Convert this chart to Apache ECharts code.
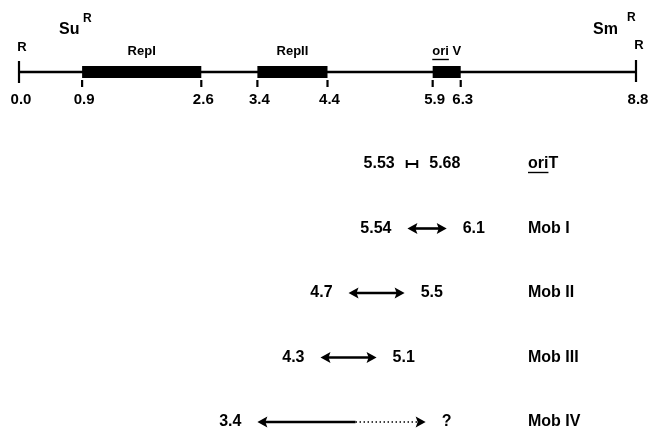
<!DOCTYPE html>
<html><head><meta charset="utf-8">
<script src="https://cdn.jsdelivr.net/npm/echarts@6/dist/echarts.min.js"></script>
<style>html,body{margin:0;padding:0;background:#fff}#c{width:650px;height:433px}</style>
</head><body><div id="c"></div>
<script>
// ---- data ----
const mapStart = 0.0;
const mapEnd = 8.8;
const mapTicks = [0.0, 0.9, 2.6, 3.4, 4.4, 5.9, 6.3, 8.8];
const blockNames = ['RepI', 'RepII', 'ori V'];
const blockStarts = [0.9, 3.4, 5.9];
const blockEnds = [2.6, 4.4, 6.3];
const blockUnderline = [0, 0, 3];          // underlined leading characters
const endSiteLabel = 'R';
const markerNames = ['Su', 'Sm'];          // resistance markers near left / right end
const markerSup = 'R';
const rowNames = ['oriT', 'Mob I', 'Mob II', 'Mob III', 'Mob IV'];
const rowUnderline = [3, 0, 0, 0, 0];
const rowStarts = [5.53, 5.54, 4.7, 4.3, 3.4];
const rowEnds = [5.68, 6.1, 5.5, 5.1, 5.8];       // Mob IV end unknown (drawn dotted)
const rowSolidEnds = [5.68, 6.1, 5.5, 5.1, 4.8];
const rowStartLabels = ['5.53', '5.54', '4.7', '4.3', '3.4'];
const rowEndLabels = ['5.68', '6.1', '5.5', '5.1', '?'];
const rowKinds = ['bar', 'arrow', 'arrow', 'arrow', 'arrow'];

// ---- helpers ----
const FONT = '"Liberation Sans", Arial, Helvetica, sans-serif';
const mctx = document.createElement('canvas').getContext('2d');
function textW(t, size, weight) {
  mctx.font = (weight || 'bold') + ' ' + size + 'px ' + FONT;
  return mctx.measureText(t).width;
}
function txt(x, y, t, size, align, weight) {
  return { type: 'text', style: { x: x, y: y, text: t, fill: '#000', font: (weight || 'bold') + ' ' + size + 'px ' + FONT, textAlign: align || 'center', textVerticalAlign: 'middle' } };
}
function ln(x1, y1, x2, y2, w, dash) {
  return { type: 'line', shape: { x1: x1, y1: y1, x2: x2, y2: y2 }, style: { stroke: '#000', lineWidth: w, lineDash: dash || null } };
}
function head(xTip, y, dir) {
  const L = 10, H = 5.5;
  return { type: 'polygon', shape: { points: [[xTip, y], [xTip + dir * L, y - H], [xTip + dir * (L - 2), y], [xTip + dir * L, y + H]] }, style: { fill: '#000' } };
}

const chart = echarts.init(document.getElementById('c'), null, { renderer: 'canvas' });
const xAx = { type: 'value', min: mapStart, max: mapEnd, show: false };
const option = {
  animation: false,
  backgroundColor: '#fff',
  grid: [
    { left: 19, right: 14, top: 62, height: 20 },
    { left: 19, right: 14, top: 164, height: 258 }
  ],
  xAxis: [Object.assign({ gridIndex: 0 }, xAx), Object.assign({ gridIndex: 1 }, xAx)],
  yAxis: [
    { gridIndex: 0, type: 'category', data: ['map'], show: false },
    { gridIndex: 1, type: 'category', data: rowNames, inverse: true, boundaryGap: false, show: false }
  ],
  series: [
    { // backbone
      type: 'custom', xAxisIndex: 0, yAxisIndex: 0, clip: false,
      data: [[mapStart, mapEnd, 0]],
      renderItem: function (params, api) {
        const a = api.coord([api.value(0), api.value(2)]);
        const b = api.coord([api.value(1), api.value(2)]);
        const y = a[1];
        return { type: 'group', children: [
          ln(a[0], y, b[0], y, 2.6),
          ln(a[0], y - 11, a[0], y + 11, 2.2),
          ln(b[0], y - 12, b[0], y + 10, 2.2),
          txt(a[0] + 3, y - 25, endSiteLabel, 13),
          txt(b[0] + 3, y - 27, endSiteLabel, 13),
          txt(a[0] + 40, y - 42, markerNames[0], 16, 'left'),
          txt(a[0] + 64, y - 53, markerSup, 12, 'left'),
          txt(b[0] - 43, y - 42, markerNames[1], 16, 'left'),
          txt(b[0] - 9, y - 54, markerSup, 12, 'left')
        ] };
      }
    },
    { // blocks
      type: 'custom', xAxisIndex: 0, yAxisIndex: 0, clip: false,
      data: blockStarts.map((s, i) => [s, blockEnds[i], 0]),
      renderItem: function (params, api) {
        const i = params.dataIndex;
        const a = api.coord([api.value(0), api.value(2)]);
        const b = api.coord([api.value(1), api.value(2)]);
        const y = a[1];
        const cx = (a[0] + b[0]) / 2;
        const name = blockNames[i];
        const ch = [
          { type: 'rect', shape: { x: a[0], y: y - 6, width: b[0] - a[0], height: 12 }, style: { fill: '#000' } },
          txt(cx, y - 21, name, 13)
        ];
        if (blockUnderline[i]) {
          const w = textW(name, 13);
          const uw = textW(name.slice(0, blockUnderline[i]), 13);
          ch.push(ln(cx - w / 2, y - 12.5, cx - w / 2 + uw, y - 12.5, 1.4));
        }
        return { type: 'group', children: ch };
      }
    },
    { // ticks + labels
      type: 'custom', xAxisIndex: 0, yAxisIndex: 0, clip: false,
      data: mapTicks.map(v => [v, 0]),
      renderItem: function (params, api) {
        const p = api.coord([api.value(0), api.value(1)]);
        const i = params.dataIndex;
        const ch = [txt(p[0] + 2, p[1] + 28, api.value(0).toFixed(1), 15)];
        if (i > 0 && i < mapTicks.length - 1) ch.push(ln(p[0], p[1] + 8, p[0], p[1] + 15, 2.2));
        return { type: 'group', children: ch };
      }
    },
    { // rows
      type: 'custom', xAxisIndex: 1, yAxisIndex: 1, clip: false,
      data: rowStarts.map((s, i) => [s, rowEnds[i], i, rowSolidEnds[i]]),
      renderItem: function (params, api) {
        const i = params.dataIndex;
        const a = api.coord([api.value(0), api.value(2)]);
        const b = api.coord([api.value(1), api.value(2)]);
        const se = api.coord([api.value(3), api.value(2)]);
        const y = a[1];
        const right = api.coord([mapEnd, api.value(2)])[0];
        const ch = [];
        let gap = 16;
        if (rowKinds[i] === 'bar') {
          gap = 12;
          ch.push(ln(a[0], y, b[0], y, 2));
          ch.push(ln(a[0], y - 4, a[0], y + 4, 2));
          ch.push(ln(b[0], y - 4, b[0], y + 4, 2));
        } else {
          ch.push(head(a[0], y, 1));
          ch.push(head(b[0], y, -1));
          ch.push(ln(a[0] + 6, y, Math.min(se[0], b[0] - 6), y, 2.6));
          if (se[0] < b[0] - 6) ch.push(ln(se[0], y, b[0] - 7, y, 1.5, [1.5, 2.5]));
        }
        ch.push(txt(a[0] - gap, y, rowStartLabels[i], 16, 'right'));
        ch.push(txt(b[0] + gap, y, rowEndLabels[i], 16, 'left'));
        const nx = right - 108;
        ch.push(txt(nx, y, rowNames[i], 16, 'left'));
        if (rowUnderline[i]) {
          const uw = textW(rowNames[i].slice(0, rowUnderline[i]), 16);
          ch.push(ln(nx, y + 8.5, nx + uw, y + 8.5, 1.4));
        }
        return { type: 'group', children: ch };
      }
    }
  ]
};
chart.setOption(option);
</script>
</body></html>
